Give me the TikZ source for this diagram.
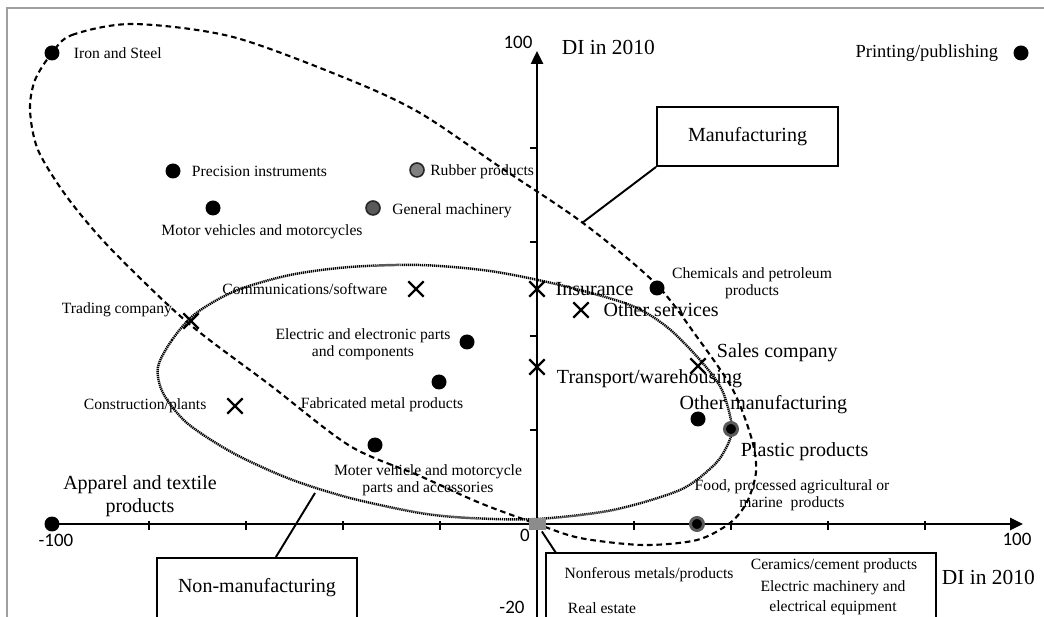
\documentclass[tikz,border=0pt]{standalone}
\usepackage{fontspec}
\setmainfont{Liberation Serif}
\newfontfamily\numfont{Carlito}
\usetikzlibrary{arrows.meta,positioning,shapes.misc}

\begin{document}
\begin{tikzpicture}[x=0.02cm,y=-0.02cm,line width=1.1pt,
  pt/.style={circle,fill=black,inner sep=0pt,minimum size=0.3cm},
  grpt/.style={pt,draw=black!85,fill=gray,line width=0.9pt,minimum size=0.28cm},
  ringpt/.style={pt,draw=black!65,line width=1.7pt,minimum size=0.26cm},
  xpt/.style={cross out,draw=black,line width=1.3pt,inner sep=0pt,minimum size=0.26cm},
  lbl/.style={font=\fontsize{8.9}{9.7}\selectfont,inner sep=0pt,align=center},
  big/.style={font=\fontsize{11.4}{13}\selectfont,inner sep=0pt,align=center},
  num/.style={font=\numfont\fontsize{10.8}{12}\selectfont,inner sep=0pt},
  dilbl/.style={font=\fontsize{12.2}{14}\selectfont,inner sep=0pt,anchor=west},
  box/.style={draw=black,rectangle,inner sep=0pt,font=\fontsize{11.4}{13}\selectfont}]

  \useasboundingbox (0,0) rectangle (1044,617);
  \clip (0,0) rectangle (1044,617);
  \draw[gray!75,line width=1.3pt] (7,640) -- (7,8) -- (1060,8);

  \draw[line width=1.2pt,dash pattern=on 3.2pt off 2.2pt] plot[smooth cycle] coordinates {
    (52,53) (72,35) (133,24) (233,37) (350,80) (420,113) (500,167) (583,223)
    (655,283) (697,337) (733,390) (752,440) (756,472) (747,502) (730,523)
    (697,540) (643,545) (580,538) (537,524) (480,503) (420,476) (350,446)
    (270,385) (187,322) (110,248) (67,197) (38,150) (30,110) (35,80)};
  \draw[line width=1.4pt,dash pattern=on 0.7pt off 0.45pt] plot[smooth cycle] coordinates {
    (158,367) (172,340) (195,314) (235,291) (290,275) (350,267) (420,265)
    (490,271) (560,285) (630,305) (667,327) (700,360) (722,390) (732,428)
    (725,450) (712,467) (680,490) (613,510) (537,519) (470,518) (420,513)
    (350,498) (290,479) (233,453) (187,423) (163,393)};

  \draw[line width=1.5pt,-{Triangle[length=7.4pt,width=6.8pt]}] (52,524) -- (1023,524);
  \draw[line width=1.5pt,-{Triangle[length=7.4pt,width=6.8pt]}] (537,640) -- (537,51);
  \foreach \t in {149,246,343,440,634,731,828,925}
    \draw[line width=1.5pt] (\t,521) -- (\t,530);
  \foreach \t in {148,242,336,430}
    \draw[line width=1.5pt] (530,\t) -- (537,\t);

  \node[num] (ytop) at (518,42) {100};
  \node[num] (xleft) at (56,540) {-100};
  \node[num] (zero) at (525,535) {0};
  \node[num] (xright) at (1017,539) {100};
  \node[num] (ybot) at (512,607) {-20};
  \node[dilbl] (ylbl) at (561,47) {DI in 2010};
  \node[dilbl] (xlbl) at (941,577) {DI in 2010};

  \node[pt] (iron) at (52,53) {};
  \node[pt] (printing) at (1021,53) {};
  \node[pt] (precision) at (173,171) {};
  \node[pt] (motorveh) at (213,208) {};
  \node[grpt] (rubber) at (417,170) {};
  \node[grpt,fill=black!65] (genmach) at (373,208) {};
  \node[pt] (chem) at (657,288) {};
  \node[pt] (elec) at (467,342) {};
  \node[pt] (fabr) at (439,382) {};
  \node[pt] (parts) at (375,445) {};
  \node[pt] (othmfg) at (698,419) {};
  \node[ringpt] (plastic) at (731,429) {};
  \node[ringpt] (food) at (697,524) {};
  \node[pt] (apparel) at (52,524) {};
  \node[rectangle,fill=black!45,inner sep=0pt,minimum width=0.34cm,minimum height=0.26cm] (nonfsq) at (537,524) {};

  \node[xpt] (comm) at (416,289) {};
  \node[xpt] (insur) at (537,289) {};
  \node[xpt] (othsvc) at (581,310) {};
  \node[xpt] (trading) at (191,321) {};
  \node[xpt] (transp) at (537,367) {};
  \node[xpt] (sales) at (698,366) {};
  \node[xpt] (constr) at (235,406) {};

  \node[lbl,right=0.25cm of iron] (ironlbl) {Iron and Steel};
  \node[lbl,font=\fontsize{10.5}{12}\selectfont,left=0.27cm of printing] (printlbl) {Printing/publishing};
  \node[lbl,right=0.19cm of precision] (preclbl) {Precision instruments};
  \node[lbl] (motorlbl) at (262,232) {Motor vehicles and motorcycles};
  \node[lbl,right=0.09cm of rubber,yshift=-0.04cm] (rubberlbl) {Rubber products};
  \node[lbl,right=0.21cm of genmach,yshift=-0.06cm] (genlbl) {General machinery};
  \node[lbl] (chemlbl) at (752,283) {Chemicals and petroleum\\products};
  \node[lbl] (eleclbl) at (363,344) {Electric and electronic parts\\and components};
  \node[lbl] (fabrlbl) at (382,405) {Fabricated metal products};
  \node[lbl] (partslbl) at (428,480) {Moter vehicle and motorcycle\\parts and accessories};
  \node[big,anchor=east] (othmfglbl) at (848,405) {Other manufacturing};
  \node[big,anchor=west] (plasticlbl) at (740,452) {Plastic products};
  \node[lbl] (foodlbl) at (792,495) {Food, processed agricultural or\\marine\ \ products};
  \node[big] (apparellbl) at (140,496) {Apparel and textile\\products};
  \node[lbl,left=0.40cm of comm] (commlbl) {Communications/software};
  \node[big,right=0.2cm of insur] (insurlbl) {Insurance};
  \node[big,right=0.28cm of othsvc] (othsvclbl) {Other services};
  \node[lbl,anchor=east] (tradinglbl) at (173,310) {Trading company};
  \node[big,anchor=west] (transplbl) at (556,379) {Transport/warehousing};
  \node[big,anchor=west] (saleslbl) at (716,353) {Sales company};
  \node[lbl,left=0.40cm of constr] (constrlbl) {Construction/plants};

  \node[box,minimum width=3.62cm,minimum height=1.18cm] (mfg) at (747.5,136.5) {Manufacturing};
  \node[box,minimum width=4cm,minimum height=1.2cm] (nonmfg) at (257,588) {Non-manufacturing};
  \node[box,minimum width=7.8cm,minimum height=1.54cm] (others) at (741,591.5) {};
  \node[lbl] (nonfer) at (649,575) {Nonferous metals/products};
  \node[lbl,anchor=west] (realest) at (567,608) {Real estate};
  \node[lbl] (ceram) at (834,566) {Ceramics/cement products};
  \node[lbl,font=\fontsize{8.9}{11.4}\selectfont] (elecmach) at (833,598) {Electric machinery and\\electrical equipment};

  \coordinate (mfgtip) at (582,223);
  \coordinate (nontip) at (315,493);
  \coordinate (othtip) at (556,553);
  \draw (mfg.south west) -- (mfgtip);
  \draw (nonmfg) -- (nontip);
  \draw (nonfsq) -- (othtip);

\end{tikzpicture}
\end{document}
